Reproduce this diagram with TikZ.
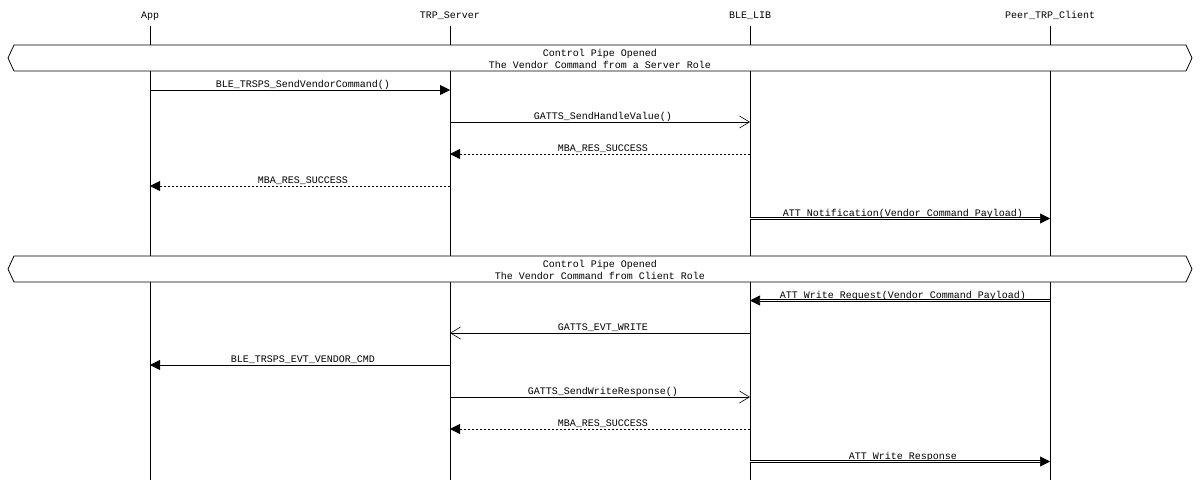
\documentclass[tikz,border=0pt]{standalone}
\usepackage{fontspec}
\setmonofont{Liberation Mono}
\usetikzlibrary{arrows.meta}

\tikzset{
  lbl/.style={font=\ttfamily\fontsize{10}{12}\selectfont, inner sep=0pt, anchor=base},
  msglbl/.style={lbl, midway, anchor=base, xshift=3pt, yshift=2.5pt},
  life/.style={line width=0.8pt},
  call/.style={line width=0.8pt, -{Triangle[length=10pt,width=10pt]}},
  sig/.style={line width=0.8pt, -{Straight Barb[length=10pt,width=12pt,line width=0.6pt]}},
  ret/.style={line width=0.8pt, dash pattern=on 2pt off 2pt, -{Triangle[length=10pt,width=10pt]}},
  air/.style={line width=0.7pt, double, double distance=1.6pt, -{Triangle[length=10pt,width=10pt]}},
  bar/.style={draw, fill=white, line width=0.8pt}
}

\begin{document}
\begin{tikzpicture}[x=1pt, y=-1pt]
\useasboundingbox (0,0) rectangle (1200,480);
\coordinate (top) at (0,26);
\coordinate (bot) at (0,480);
\foreach \n/\x/\t in {app/150/App, srv/450/TRP\_Server, lib/750/BLE\_LIB, peer/1050/Peer\_TRP\_Client}
{
  \node[lbl] (\n) at (\x,18) {\t};
  \draw[life] (\n |- top) -- (\n |- bot);
}
\draw[bar] (14,45) -- (1186,45) -- (1192,58) -- (1186,71) -- (14,71) -- (8,58) -- cycle;
\node[lbl] (pipea) at (600,56) {Control Pipe Opened};
\node[lbl] (pipeb) at (600,68.5) {The Vendor Command from a Server Role};
\draw[call] (app |- 0,90) -- node[msglbl]{BLE\_TRSPS\_SendVendorCommand()} (srv |- 0,90);
\draw[sig] (srv |- 0,122) -- node[msglbl]{GATTS\_SendHandleValue()} (lib |- 0,122);
\draw[ret] (lib |- 0,154) -- node[msglbl]{MBA\_RES\_SUCCESS} (srv |- 0,154);
\draw[ret] (srv |- 0,186) -- node[msglbl]{MBA\_RES\_SUCCESS} (app |- 0,186);
\draw[air] (lib |- 0,218.5) -- node[msglbl]{ATT Notification(Vendor Command Payload)} (peer |- 0,218.5);
\draw[bar] (14,256) -- (1186,256) -- (1192,269) -- (1186,282) -- (14,282) -- (8,269) -- cycle;
\node[lbl] (pipec) at (600,267) {Control Pipe Opened};
\node[lbl] (piped) at (600,279.5) {The Vendor Command from Client Role};
\draw[air] (peer |- 0,300.5) -- node[msglbl]{ATT Write Request(Vendor Command Payload)} (lib |- 0,300.5);
\draw[sig] (lib |- 0,333) -- node[msglbl]{GATTS\_EVT\_WRITE} (srv |- 0,333);
\draw[call] (srv |- 0,365) -- node[msglbl]{BLE\_TRSPS\_EVT\_VENDOR\_CMD} (app |- 0,365);
\draw[sig] (srv |- 0,397) -- node[msglbl]{GATTS\_SendWriteResponse()} (lib |- 0,397);
\draw[ret] (lib |- 0,429) -- node[msglbl]{MBA\_RES\_SUCCESS} (srv |- 0,429);
\draw[air] (lib |- 0,461.5) -- node[msglbl]{ATT Write Response} (peer |- 0,461.5);
\end{tikzpicture}
\end{document}
